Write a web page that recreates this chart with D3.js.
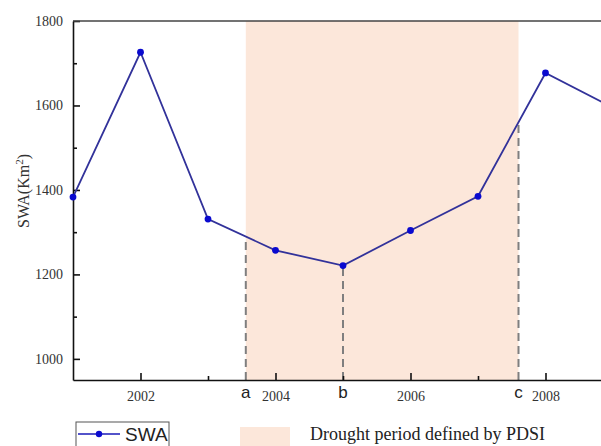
<!DOCTYPE html>
<meta charset="UTF-8">
<script src="https://cdnjs.cloudflare.com/ajax/libs/d3/7.4.4/d3.min.js"></script>
<style>
    body { margin: 0; background: #fff; }
    svg { display: block; }
</style>
<svg id="chart" width="601" height="446"></svg>
<script>
    // SWA series
    let years = [2001, 2002, 2003, 2004, 2005, 2006, 2007, 2008, 2009];
    let swa = [1383, 1726, 1331, 1257, 1221, 1304, 1385, 1677, 1595];
    let xMajor = [2002, 2004, 2006, 2008];
    let xMinor = [2003, 2005, 2007];
    let yMajor = [1000, 1200, 1400, 1600, 1800];
    let yMinor = [1100, 1300, 1500, 1700];
    let droughtPeriod = [2003.56, 2007.6];
    let markYears = [2003.56, 2005, 2007.6];
    let markLabels = ["a", "b", "c"];

    let svg = d3.select("#chart");
    let pLeft = 73, pTop = 21, pBottom = 380, pRight = 613;

    let x = d3.scaleLinear().domain([2001, 2009]).range([pLeft, pRight]);
    let y = d3.scaleLinear().domain([950, 1800]).range([pBottom, pTop]);

    // drought shading
    svg.append("rect")
        .attr("x", x(droughtPeriod[0]))
        .attr("y", pTop)
        .attr("width", x(droughtPeriod[1]) - x(droughtPeriod[0]))
        .attr("height", pBottom - pTop)
        .style("fill", "#fce7da");

    // value of the line at a given year
    function valueAt(t) {
        let i = d3.bisectRight(years, t) - 1;
        if (i >= years.length - 1) return swa[swa.length - 1];
        let f = (t - years[i]) / (years[i + 1] - years[i]);
        return swa[i] + f * (swa[i + 1] - swa[i]);
    }

    // dashed markers a, b, c
    svg.append("g").selectAll("line")
        .data(markYears)
        .enter().append("line")
        .attr("x1", d => x(d)).attr("x2", d => x(d))
        .attr("y1", pBottom)
        .attr("y2", d => y(valueAt(d)))
        .style("stroke", "#7f7f7f")
        .style("stroke-width", 2)
        .style("stroke-dasharray", "8,5");

    // axes
    let fontSerif = "'Liberation Serif', 'Times New Roman', serif";
    let fontSans = "'Liberation Sans', Arial, sans-serif";

    svg.append("g")
        .attr("transform", "translate(0," + pBottom + ")")
        .call(d3.axisBottom(x).tickValues(xMajor).tickFormat(d3.format("d"))
            .tickSizeInner(-7).tickSizeOuter(0).tickPadding(11));
    svg.append("g")
        .attr("transform", "translate(0," + pBottom + ")")
        .call(d3.axisBottom(x).tickValues(xMinor).tickFormat("")
            .tickSizeInner(-4).tickSizeOuter(0))
        .select(".domain").remove();

    svg.append("g")
        .attr("transform", "translate(" + pLeft + ",0)")
        .call(d3.axisLeft(y).tickValues(yMajor).tickFormat(d3.format("d"))
            .tickSizeInner(-7).tickSizeOuter(0).tickPadding(10));
    svg.append("g")
        .attr("transform", "translate(" + pLeft + ",0)")
        .call(d3.axisLeft(y).tickValues(yMinor).tickFormat("")
            .tickSizeInner(-4).tickSizeOuter(0))
        .select(".domain").remove();

    svg.selectAll(".domain, .tick line")
        .style("stroke", "#111")
        .style("stroke-width", 1.6);
    svg.selectAll(".tick text")
        .style("font-family", fontSerif)
        .style("font-size", "14px")
        .style("fill", "#333");

    // top frame
    svg.append("line")
        .attr("x1", pLeft).attr("x2", pRight)
        .attr("y1", pTop).attr("y2", pTop)
        .style("stroke", "#444")
        .style("stroke-width", 1.6);

    // a b c labels
    svg.append("g").selectAll("text")
        .data(markYears)
        .enter().append("text")
        .attr("x", d => x(d))
        .attr("y", 398)
        .style("font-family", fontSans)
        .style("font-size", "17px")
        .style("text-anchor", "middle")
        .style("fill", "#222")
        .text((d, i) => markLabels[i]);

    // SWA line
    let line = d3.line()
        .x((d, i) => x(years[i]))
        .y(d => y(d));
    svg.append("path")
        .datum(swa)
        .attr("d", line)
        .style("fill", "none")
        .style("stroke", "#32329a")
        .style("stroke-width", 1.8);
    svg.append("g").selectAll("circle")
        .data(swa)
        .enter().append("circle")
        .attr("cx", (d, i) => x(years[i]))
        .attr("cy", d => y(d))
        .attr("r", 3.4)
        .style("fill", "#0a0acf");

    // y label
    let ylab = svg.append("text")
        .attr("transform", "translate(29,191) rotate(-90)")
        .style("font-family", fontSerif)
        .style("font-size", "16px")
        .style("text-anchor", "middle")
        .style("fill", "#333");
    ylab.append("tspan").text("SWA(Km");
    ylab.append("tspan").attr("dy", -6).style("font-size", "11px").text("2");
    ylab.append("tspan").attr("dy", 6).text(")");

    // legend
    let leg = svg.append("g");
    leg.append("rect")
        .attr("x", 76).attr("y", 422)
        .attr("width", 93).attr("height", 30)
        .style("fill", "#fff")
        .style("stroke", "#555")
        .style("stroke-width", 1);
    leg.append("line")
        .attr("x1", 78).attr("x2", 120)
        .attr("y1", 434).attr("y2", 434)
        .style("stroke", "#1a1ab8")
        .style("stroke-width", 1.6);
    leg.append("circle")
        .attr("cx", 99).attr("cy", 434).attr("r", 3.2)
        .style("fill", "#0a0acf");
    leg.append("text")
        .attr("x", 125).attr("y", 441)
        .style("font-family", fontSans)
        .style("font-size", "19px")
        .style("fill", "#222")
        .text("SWA");
    leg.append("rect")
        .attr("x", 240).attr("y", 427)
        .attr("width", 50).attr("height", 25)
        .style("fill", "#fce7da");
    leg.append("text")
        .attr("x", 310).attr("y", 440)
        .style("font-family", fontSerif)
        .style("font-size", "18px")
        .style("fill", "#222")
        .text("Drought period defined by PDSI");
</script>
